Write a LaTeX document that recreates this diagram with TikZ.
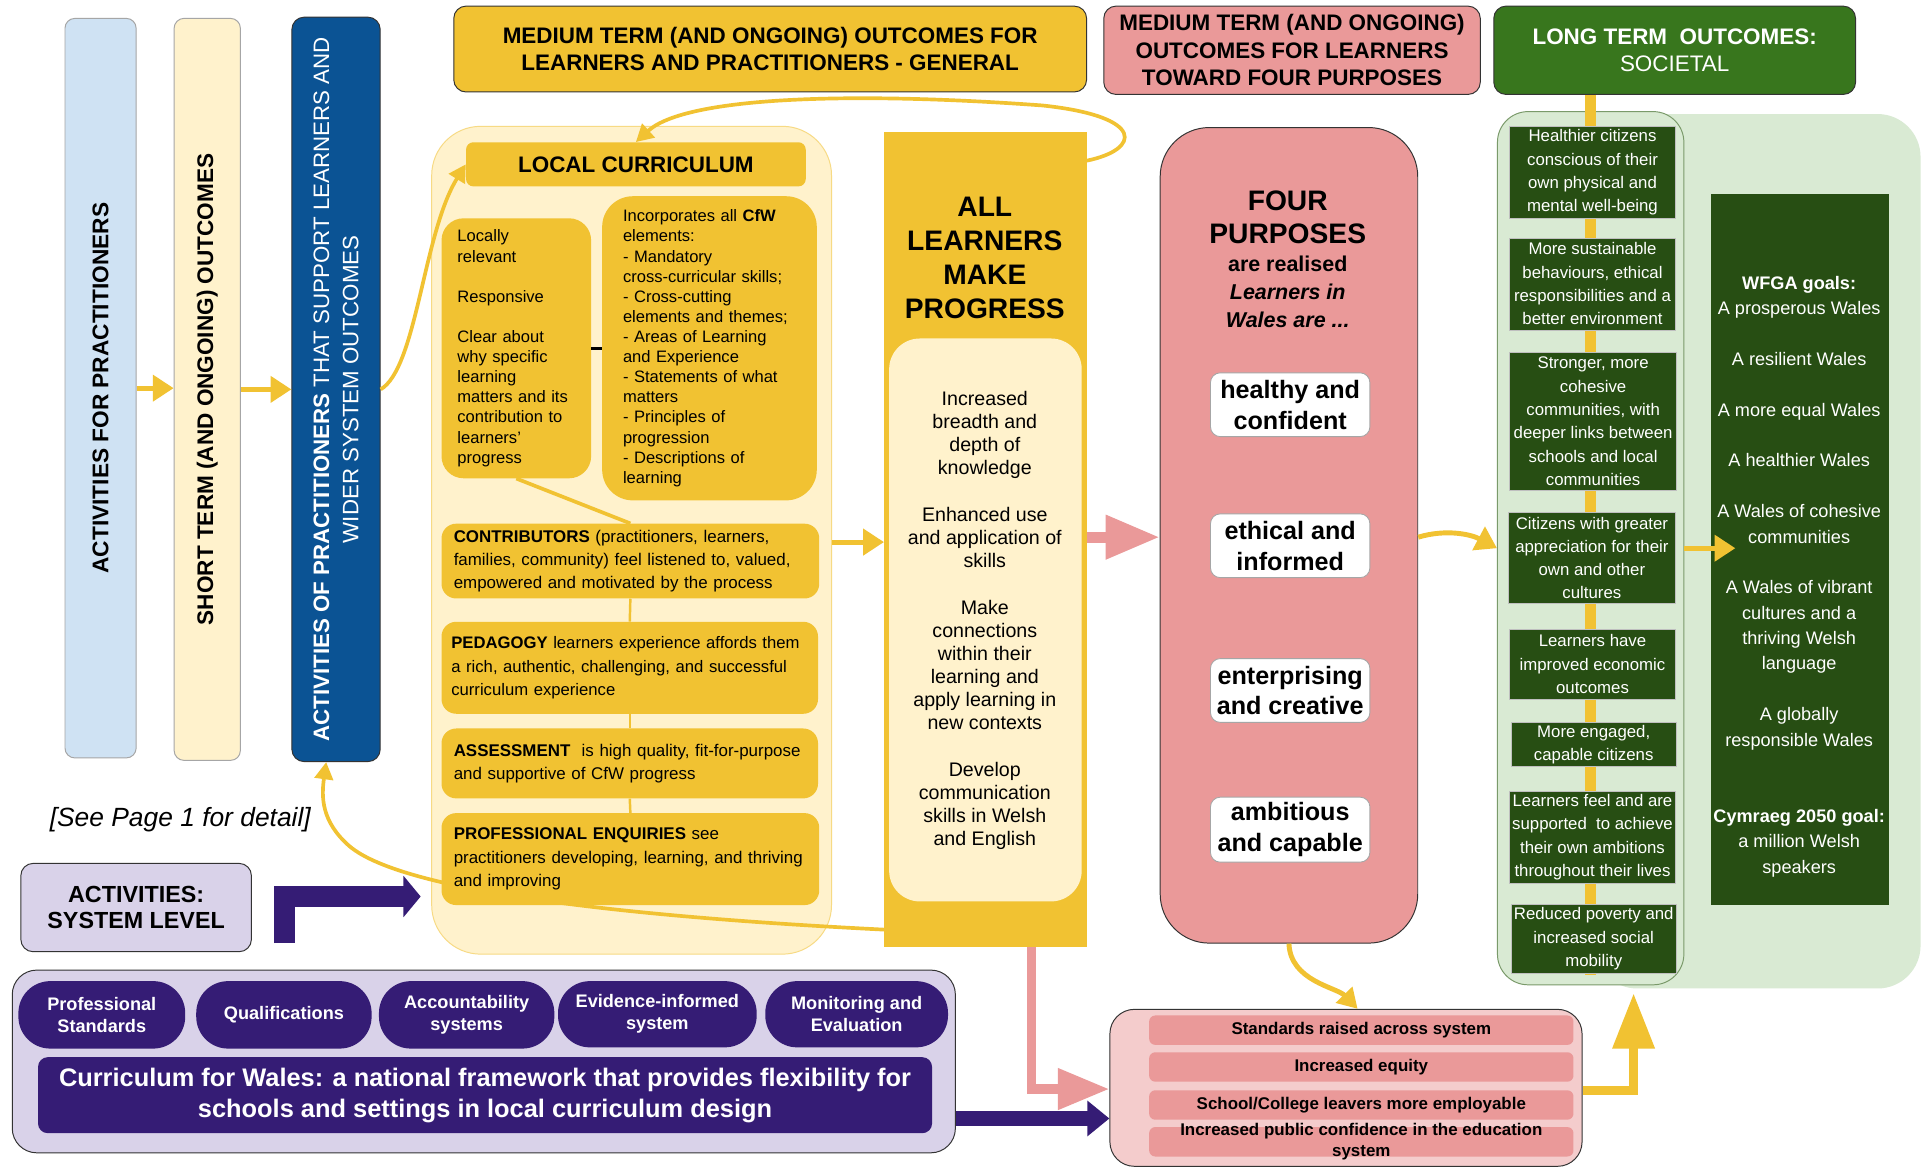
\documentclass[tikz,border=0pt]{standalone}
\usepackage{fontspec}
\setmainfont{Liberation Sans}
\usetikzlibrary{arrows.meta}
\definecolor{yel}{HTML}{F1C232}
\definecolor{cream}{HTML}{FFF2CC}
\definecolor{lblue}{HTML}{CFE2F3}
\definecolor{dblue}{HTML}{0B5394}
\definecolor{pnk}{HTML}{EA9999}
\definecolor{lpnk}{HTML}{F4CCCC}
\definecolor{gfill}{HTML}{38761D}
\definecolor{dgreen}{HTML}{274E13}
\definecolor{lgreen}{HTML}{D9EAD3}
\definecolor{gbord}{HTML}{7A9A6A}
\definecolor{purp}{HTML}{351C75}
\definecolor{lav}{HTML}{D9D2E9}
\definecolor{bord}{HTML}{333333}
\newcommand\fsz[2]{\fontsize{#1}{#2}\selectfont}
\newcommand\mybox[7]{%
 \pgfmathsetmacro\mbW{#4-#2}\pgfmathsetmacro\mbH{#5-#3}%
 \pgfmathsetmacro\mbX{(#2+#4)/2}\pgfmathsetmacro\mbY{(#3+#5)/2}%
 \node[#6,minimum width=\mbW pt,minimum height=\mbH pt] (#1) at (\mbX,\mbY) {#7};}
\newcommand\mylbox[8]{%
 \pgfmathsetmacro\mbW{#4-#2-2*#8}\pgfmathsetmacro\mbH{#5-#3}%
 \pgfmathsetmacro\mbX{(#2+#4)/2}\pgfmathsetmacro\mbY{(#3+#5)/2}%
 \node[#6,text width=\mbW pt,inner xsep=#8pt,inner ysep=0pt,minimum height=\mbH pt,align=left] (#1) at (\mbX,\mbY) {#7};}
\begin{document}
\begin{tikzpicture}[x=1pt,y=-1pt,
  every node/.style={font=\fsz{14}{17}},
  yarr/.style={draw=yel,line width=4pt,-{Triangle[length=17pt,width=21pt]}},
  ythin/.style={draw=yel,line width=3pt,-{Triangle[length=14pt,width=15pt]}},
  ybox/.style={fill=yel,rounded corners=12pt},
  lavbox/.style={fill=lav,draw=bord,line width=0.8pt,rounded corners=10pt},
  pill/.style={fill=purp,text=white,rounded corners=26pt,font=\bfseries\fsz{14.8}{18},align=center,inner sep=0pt},
  hdr/.style={draw=bord,line width=0.8pt,rounded corners=10pt,align=center,font=\bfseries\fsz{18.3}{22.5}},
  wbox/.style={fill=white,draw=gray!70,line width=0.7pt,rounded corners=8pt,align=center,font=\bfseries\fsz{20.5}{25},inner sep=0pt},
  dgbox/.style={fill=dgreen,draw=gray!50,line width=0.5pt,text=white,align=center,font=\fsz{13.7}{19},inner sep=0pt},
  prow/.style={fill=pnk,rounded corners=5pt,font=\bfseries\fsz{13.8}{17},inner sep=0pt}]
\fill[white] (0,0) rectangle (1568,952);
\useasboundingbox (0,0) rectangle (1568,952);

% ---------- left columns
\mybox{lb}{53}{15}{111}{618}{fill=lblue,draw=gray!70,line width=0.8pt,rounded corners=8pt}{}
\node[rotate=90,font=\bfseries\fsz{18.5}{22}] (lbt) at (lb) {ACTIVITIES FOR PRACTITIONERS};
\mybox{st}{142}{15}{196}{620}{fill=cream,draw=gray!70,line width=0.8pt,rounded corners=8pt}{}
\node[rotate=90,font=\bfseries\fsz{18.4}{22}] (stt) at (st) {SHORT TERM (AND ONGOING) OUTCOMES};
\mybox{ap}{238}{14}{310}{621}{fill=dblue,draw=bord,line width=0.8pt,rounded corners=10pt}{}
\node[rotate=90,font=\fsz{18.2}{24},text=white,align=center] (apt) at (ap) {\textbf{ACTIVITIES OF PRACTITIONERS} THAT SUPPORT LEARNERS AND\\WIDER SYSTEM OUTCOMES};
\draw[yarr] (lb.east) -- (lb.east -| st.west);
\draw[yarr] (st.east) -- (st.east -| ap.west);
\node[font=\itshape\fsz{21.5}{25}] (see) at (147,668) {[See Page 1 for detail]};

% ---------- headers
\mybox{h1}{370}{5}{886}{75}{hdr,fill=yel}{MEDIUM TERM (AND ONGOING) OUTCOMES FOR\\LEARNERS AND PRACTITIONERS - GENERAL}
\mybox{h2}{900}{5}{1207}{77}{hdr,fill=pnk}{MEDIUM TERM (AND ONGOING)\\OUTCOMES FOR LEARNERS\\TOWARD FOUR PURPOSES}
\mybox{h3}{1218}{5}{1513}{77}{hdr,fill=gfill,text=white,font=\fsz{18.3}{22.5}}{\textbf{LONG TERM\ \ OUTCOMES:}\\SOCIETAL}

% ---------- all learners (box first, so the loop curves can use it)
\mybox{allb}{721}{108}{886}{772}{fill=yel}{}
\node[font=\bfseries\fsz{23}{27.7},align=center] (allt) at (803,210) {ALL\\LEARNERS\\MAKE\\PROGRESS};
\mybox{alli}{725}{276}{882}{735}{fill=cream,rounded corners=25pt}{}
\node[font=\fsz{16}{18.9},align=center] (allx) at (803,506) {Increased\\breadth and\\depth of\\knowledge\\[18.9pt]Enhanced use\\and application of\\skills\\[18.9pt]Make\\connections\\within their\\learning and\\apply learning in\\new contexts\\[18.9pt]Develop\\communication\\skills in Welsh\\and English};

% ---------- local curriculum
\mybox{lcbg}{352}{103}{678}{778}{fill=cream,draw=yel!60,line width=0.8pt,rounded corners=40pt}{}
\draw[ythin] (allb.west |- 0,758) .. controls (520,748) and (330,728) .. (285,690) .. controls (262,670) and (262,650) .. (ap.south -| 266,0);
\mybox{lc}{380}{116}{657}{152}{fill=yel,rounded corners=6pt,font=\bfseries\fsz{18.3}{22}}{LOCAL CURRICULUM}
\mylbox{lrel}{360}{178}{482}{390}{ybox,rounded corners=18pt,font=\fsz{13.5}{16.4}}{Locally\\relevant\\[16.4pt]Responsive\\[16.4pt]Clear about\\why specific\\learning\\matters and its\\contribution to\\learners’\\progress}{13}
\mylbox{inc}{491}{160}{666}{408}{ybox,rounded corners=25pt,font=\fsz{13.5}{16.4}}{Incorporates all \textbf{CfW}\\elements:\\- Mandatory\\cross-curricular skills;\\- Cross-cutting\\elements and themes;\\- Areas of Learning\\and Experience\\- Statements of what\\matters\\- Principles of\\progression\\- Descriptions of\\learning}{17}
\draw[line width=2.5pt] (lrel.east) -- (inc.west);
\mylbox{con}{360}{427}{668}{488}{ybox,font=\fsz{13.8}{19}}{\textbf{CONTRIBUTORS} (practitioners, learners,\\families, community) feel listened to, valued,\\empowered and motivated by the process}{10}
\mylbox{ped}{360}{507}{667}{582}{ybox,font=\fsz{13.6}{19}}{\textbf{PEDAGOGY} learners experience affords them\\a rich, authentic, challenging, and successful\\curriculum experience}{8}
\mylbox{ass}{360}{594}{667}{651}{ybox,font=\fsz{13.8}{19}}{\textbf{ASSESSMENT}\ \ is high quality, fit-for-purpose\\and supportive of CfW progress}{10}
\mylbox{pe}{360}{663}{668}{738}{ybox,font=\fsz{13.8}{19}}{\textbf{PROFESSIONAL ENQUIRIES} see\\practitioners developing, learning, and thriving\\and improving}{10}
\draw[yel,line width=3pt] (lrel.south) -- (con.north);
\draw[yel,line width=2pt] (con.south) -- (ped.north);
\draw[yel,line width=2pt] (ped.south) -- (ass.north);
\draw[yel,line width=2pt] (ass.south) -- (pe.north);

\draw[yarr] (lcbg.east |- 0,442) -- (allb.west |- 0,442);
\draw[ythin] (ap.east) .. controls (340,300) and (345,190) .. (lc.west);
\draw[ythin] (allb.east |- 0,131) .. controls (930,122) and (935,95) .. (850,86) .. controls (700,75) and (560,78) .. (lc.north);

% ---------- four purposes
\mybox{fp}{946}{104}{1156}{769}{fill=pnk,draw=bord,line width=0.8pt,rounded corners=40pt}{}
\node[font=\bfseries\fsz{23}{27},align=center] (fpt) at (1050,177) {FOUR\\PURPOSES};
\node[font=\bfseries\fsz{17.5}{22.5},align=center] (fps) at (1050,238) {are realised\\\textit{Learners in}\\\textit{Wales are ...}};
\mybox{p1}{987}{304}{1117}{356}{wbox}{healthy and\\confident}
\mybox{p2}{987}{419}{1117}{471}{wbox}{ethical and\\informed}
\mybox{p3}{987}{537}{1117}{589}{wbox}{enterprising\\and creative}
\mybox{p4}{987}{650}{1117}{703}{wbox}{ambitious\\and capable}
\draw[draw=pnk,line width=9pt,-{Triangle[length=44pt,width=34pt]}] (allb.east |- 0,438) -- (fp.west |- 0,438);

% ---------- green
\mybox{gout}{1300}{93}{1566}{806}{fill=lgreen,rounded corners=35pt}{}
\mybox{gcol}{1221}{91}{1373}{803}{fill=lgreen,draw=gbord,line width=0.8pt,rounded corners=25pt}{}
\coordinate (gl) at (1297,795);
\draw[yel,line width=9pt] (h3.south -| gl) -- (gl);
\mybox{g1}{1231}{103}{1366}{178}{dgbox}{Healthier citizens\\conscious of their\\own physical and\\mental well-being}
\mybox{g2}{1231}{194}{1366}{269}{dgbox}{More sustainable\\behaviours, ethical\\responsibilities and a\\better environment}
\mybox{g3}{1231}{287}{1367}{400}{dgbox}{Stronger, more\\cohesive\\communities, with\\deeper links between\\schools and local\\communities}
\mybox{g4}{1230}{418}{1366}{492}{dgbox}{Citizens with greater\\appreciation for their\\own and other\\cultures}
\mybox{g5}{1231}{513}{1366}{570}{dgbox}{Learners have\\improved economic\\outcomes}
\mybox{g6}{1232}{589}{1367}{625}{dgbox}{More engaged,\\capable citizens}
\mybox{g7}{1231}{645}{1366}{720}{dgbox}{Learners feel and are\\supported\ \ to achieve\\their own ambitions\\throughout their lives}
\mybox{g8}{1232}{737}{1367}{794}{dgbox}{Reduced poverty and\\increased social\\mobility}
\mybox{wfga}{1395}{158}{1540}{738}{fill=dgreen}{}
\node[text=white,align=center,font=\fsz{14.8}{20.7}] (wfgat) at (1467,470) {\textbf{WFGA goals:}\\A prosperous Wales\\[20.7pt]A resilient Wales\\[20.7pt]A more equal Wales\\[20.7pt]A healthier Wales\\[20.7pt]A Wales of cohesive\\communities\\[20.7pt]A Wales of vibrant\\cultures and a\\thriving Welsh\\language\\[20.7pt]A globally\\responsible Wales\\[41.4pt]\textbf{Cymraeg 2050 goal:}\\a million Welsh\\speakers};
\draw[yarr] (fp.east |- 0,438) .. controls (1180,431) and (1200,436) .. (gcol.west |- 0,447);
\draw[yarr] (gcol.east |- 0,447) -- (1415,447);

% ---------- system level
\mybox{sys}{17}{704}{205}{776}{lavbox,align=center,font=\bfseries\fsz{19}{21.5}}{ACTIVITIES:\\SYSTEM LEVEL}
\coordinate (slA) at (232,769);
\coordinate (slB) at (343,731);
\draw[draw=purp,line width=17pt,line join=miter,-{Triangle[length=14pt,width=33pt]}] (slA) |- (slB);
\mybox{cont}{10}{791}{779}{940}{lavbox,rounded corners=20pt}{}
\mybox{q1}{15}{800}{151}{855}{pill}{Professional\\Standards}
\mybox{q2}{160}{800}{303}{855}{pill}{Qualifications}
\mybox{q3}{309}{800}{452}{855}{pill}{Accountability\\systems}
\mybox{q4}{455}{800}{617}{854}{pill}{Evidence-informed\\system}
\mybox{q5}{624}{800}{773}{854}{pill}{Monitoring and\\Evaluation}
\mybox{cfw}{31}{862}{760}{924}{fill=purp,text=white,rounded corners=8pt,align=center,font=\bfseries\fsz{20.7}{25}}{Curriculum for Wales: a national framework that provides flexibility for\\schools and settings in local curriculum design}

% ---------- bottom system outcomes
\mybox{pbot}{905}{823}{1290}{951}{fill=lpnk,draw=bord,line width=0.8pt,rounded corners=20pt}{}
\mybox{r1}{937}{828}{1283}{852}{prow}{Standards raised across system}
\mybox{r2}{937}{858}{1283}{882}{prow}{Increased equity}
\mybox{r3}{937}{889}{1283}{913}{prow}{School/College leavers more employable}
\mybox{r4}{937}{919}{1283}{943}{prow}{}
\node[font=\bfseries\fsz{13.8}{17},align=center] (r4t) at (1110,931) {Increased public confidence in the education\\system};

\draw[draw=purp,line width=13pt,-{Triangle[length=18pt,width=28pt]}] (cont.east |- 0,912) -- (pbot.west |- 0,912);
\coordinate (pL) at (841,888);
\draw[draw=pnk,line width=8pt,line join=miter,-{Triangle[length=42pt,width=32pt]}] (allb.south -| pL) -- (pL) -- (pbot.west |- pL);
\draw[draw=yel,line width=4pt,-{Triangle[length=16pt,width=18pt]}] (fp.south) .. controls (1052,800) and (1090,805) .. (pbot.north -| 1107,0);
\coordinate (gup) at (1332,810);
\draw[draw=yel,line width=7pt,line join=miter,-{Triangle[length=45pt,width=33pt]}] (pbot.east |- 0,889) -| (gup);
\end{tikzpicture}
\end{document}
